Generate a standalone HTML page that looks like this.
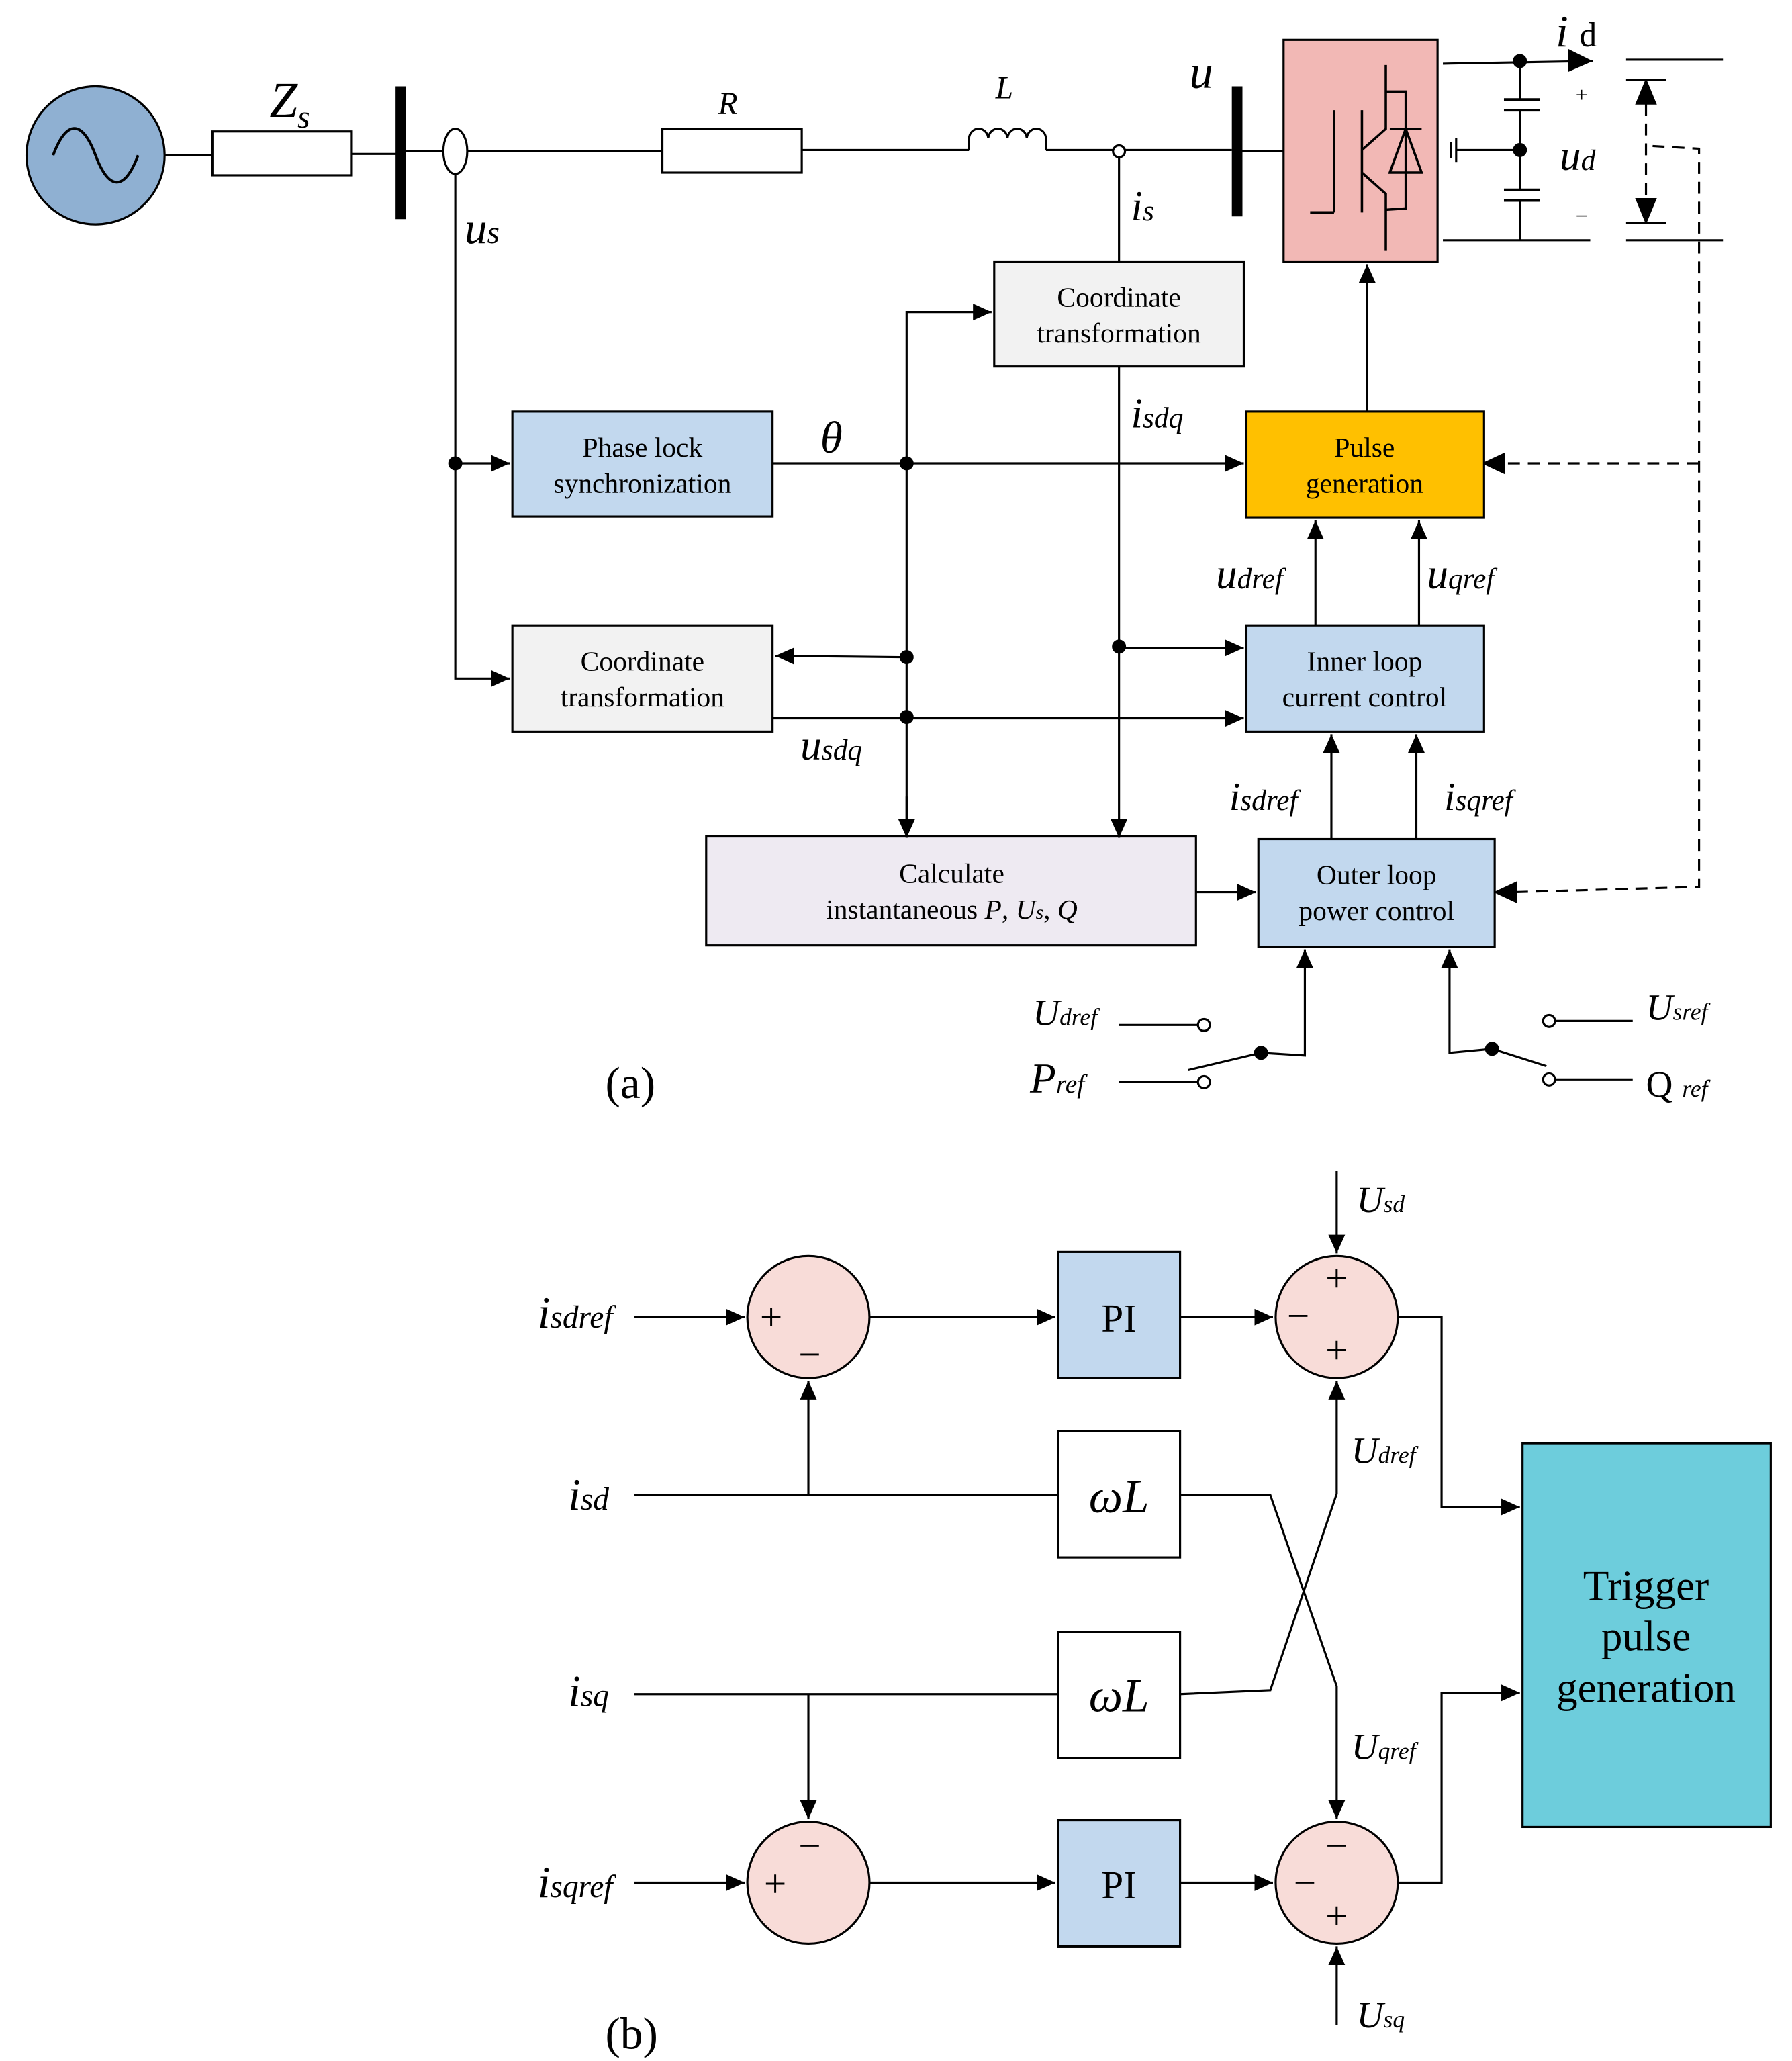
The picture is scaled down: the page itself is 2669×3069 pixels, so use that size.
<!DOCTYPE html>
<html><head><meta charset="utf-8"><style>
html,body{margin:0;padding:0;background:#fff;}
svg{display:block}
text{font-family:"Liberation Serif",serif;fill:#000}
.bx{font-size:21px;text-anchor:middle}
.lb{font-style:italic}
</style></head><body>
<svg width="2669" height="3069" viewBox="0 0 1350 1552.3" preserveAspectRatio="none" xmlns="http://www.w3.org/2000/svg">
<defs>
<marker id="A" viewBox="0 0 10 10" refX="10" refY="5" markerWidth="14" markerHeight="14" markerUnits="userSpaceOnUse" orient="auto"><path d="M0,0.5L10,5L0,9.5z" fill="#000"/></marker>
</defs>
<g stroke="#000" stroke-width="1.6" fill="none">
<circle cx="72" cy="117" r="52" fill="#8fb0d2"/>
<path d="M40,117 C50,90 62,90 72,117 C82,144 94,144 104,117" stroke-width="2"/>
<line x1="124" y1="117" x2="160" y2="117"/>
<rect x="160" y="99" width="105" height="33"/>
<line x1="265" y1="116" x2="300" y2="116"/>
<line x1="302" y1="65" x2="302" y2="165" stroke-width="8"/>
<line x1="302" y1="114" x2="499" y2="114"/>
<ellipse cx="343" cy="114" rx="9" ry="17" fill="#fff"/>
<rect x="499" y="97" width="105" height="33"/>
<line x1="604" y1="113" x2="730" y2="113"/>
<path d="M730,113 L730,104 a7.3,8 0 0 1 14.5,0 a7.3,8 0 0 1 14.5,0 a7.3,8 0 0 1 14.5,0 a7.3,8 0 0 1 14.5,0 L788,113"/>
<line x1="788" y1="113" x2="928" y2="113"/>
<circle cx="843" cy="114" r="4.5" fill="#fff"/>
<line x1="932" y1="65" x2="932" y2="163" stroke-width="8"/>
<line x1="932" y1="114" x2="967" y2="114"/>
<rect x="967" y="30" width="116" height="167" fill="#f2b8b5"/>
<g stroke-width="1.8">
<line x1="1005" y1="160" x2="1005" y2="83"/>
<polyline points="1005,160 987,160"/>
<line x1="1026" y1="83" x2="1026" y2="160"/>
<polyline points="1026,113 1044,97 1044,49"/>
<polyline points="1026,130 1044,146 1044,189"/>
<polyline points="1044,69 1059,69 1059,157 1044,158"/>
<line x1="1047" y1="97" x2="1071" y2="97"/>
<path d="M1059,97 L1047,130 L1071,130 Z"/>
</g>
<line x1="1087" y1="48" x2="1200" y2="46"/>
<path d="M1182,38 L1198,46 L1182,53 Z" fill="#000"/>
<circle cx="1145" cy="46" r="4.5" fill="#000"/>
<line x1="1087" y1="181" x2="1198" y2="181"/>
<line x1="1145" y1="46" x2="1145" y2="181"/>
<rect x="1131" y="75" width="30" height="8" fill="#fff" stroke="none"/><line x1="1133" y1="75" x2="1160" y2="75" stroke-width="2"/><line x1="1133" y1="83" x2="1160" y2="83" stroke-width="2"/>
<rect x="1131" y="143" width="30" height="8" fill="#fff" stroke="none"/><line x1="1133" y1="143" x2="1160" y2="143" stroke-width="2"/><line x1="1133" y1="151" x2="1160" y2="151" stroke-width="2"/>
<circle cx="1145" cy="113" r="4.5" fill="#000"/>
<line x1="1097" y1="113" x2="1145" y2="113"/>
<line x1="1097" y1="104" x2="1097" y2="122"/><line x1="1093" y1="107" x2="1093" y2="119"/>
<line x1="1225" y1="45" x2="1298" y2="45"/><line x1="1225" y1="181" x2="1298" y2="181"/>
<line x1="1225" y1="60" x2="1255" y2="60"/><line x1="1225" y1="168" x2="1255" y2="168"/>
<line x1="1240" y1="78" x2="1240" y2="150" stroke-dasharray="9,6"/>
<path d="M1233,78 L1240,61 L1247,78 Z M1233,150 L1240,167 L1247,150 Z" fill="#000"/>
<g stroke-dasharray="9,6">
<polyline points="1245,110 1280,112 1280,668 1140,672"/>
<line x1="1280" y1="349" x2="1132" y2="349"/>
</g>
<path d="M1142,665 L1127,672 L1142,679 Z M1133,342 L1118,349 L1133,356 Z" fill="#000"/>
<rect x="749" y="197" width="188" height="79" fill="#f2f2f2"/>
<rect x="386" y="310" width="196" height="79" fill="#c2d8ee"/>
<rect x="386" y="471" width="196" height="80" fill="#f2f2f2"/>
<rect x="939" y="310" width="179" height="80" fill="#ffc000"/>
<rect x="939" y="471" width="179" height="80" fill="#c2d8ee"/>
<rect x="948" y="632" width="178" height="81" fill="#c2d8ee"/>
<rect x="532" y="630" width="369" height="82" fill="#eeeaf2"/>
<polyline points="343,131 343,511 384,511" marker-end="url(#A)"/>
<line x1="343" y1="349" x2="384" y2="349" marker-end="url(#A)"/>
<circle cx="343" cy="349" r="4.5" fill="#000"/>
<line x1="582" y1="349" x2="937" y2="349" marker-end="url(#A)"/>
<circle cx="683" cy="349" r="4.5" fill="#000"/>
<polyline points="683,630 683,235 747,235" marker-end="url(#A)"/>
<line x1="683" y1="600" x2="683" y2="631" marker-end="url(#A)"/>
<line x1="843" y1="118" x2="843" y2="197"/>
<line x1="843" y1="276" x2="843" y2="631" marker-end="url(#A)"/>
<circle cx="843" cy="487" r="4.5" fill="#000"/>
<line x1="843" y1="488" x2="937" y2="488" marker-end="url(#A)"/>
<circle cx="683" cy="495" r="4.5" fill="#000"/>
<line x1="683" y1="495" x2="584" y2="494" marker-end="url(#A)"/>
<line x1="582" y1="541" x2="937" y2="541" marker-end="url(#A)"/>
<circle cx="683" cy="540" r="4.5" fill="#000"/>
<line x1="1030" y1="310" x2="1030" y2="199" marker-end="url(#A)"/>
<line x1="991" y1="471" x2="991" y2="392" marker-end="url(#A)"/>
<line x1="1069" y1="471" x2="1069" y2="392" marker-end="url(#A)"/>
<line x1="1003" y1="632" x2="1003" y2="553" marker-end="url(#A)"/>
<line x1="1067" y1="632" x2="1067" y2="553" marker-end="url(#A)"/>
<line x1="901" y1="672" x2="946" y2="672" marker-end="url(#A)"/>
<polyline points="895,806 950,793 983,795 983,715" marker-end="url(#A)"/>
<circle cx="950" cy="793" r="4.5" fill="#000"/>
<line x1="843" y1="772" x2="903" y2="772"/><circle cx="907" cy="772" r="4.5" fill="#fff"/>
<line x1="843" y1="815" x2="903" y2="815"/><circle cx="907" cy="815" r="4.5" fill="#fff"/>
<polyline points="1165,803 1124,790 1092,793 1092,715" marker-end="url(#A)"/>
<circle cx="1124" cy="790" r="4.5" fill="#000"/>
<line x1="1172" y1="769" x2="1230" y2="769"/><circle cx="1167" cy="769" r="4.5" fill="#fff"/>
<line x1="1172" y1="813" x2="1230" y2="813"/><circle cx="1167" cy="813" r="4.5" fill="#fff"/>

<circle cx="609" cy="992" r="46" fill="#f8dcd8"/>
<circle cx="1007" cy="992" r="46" fill="#f8dcd8"/>
<circle cx="609" cy="1418" r="46" fill="#f8dcd8"/>
<circle cx="1007" cy="1418" r="46" fill="#f8dcd8"/>
<rect x="797" y="943" width="92" height="95" fill="#c2d8ee"/>
<rect x="797" y="1371" width="92" height="95" fill="#c2d8ee"/>
<rect x="797" y="1078" width="92" height="95" fill="#fff"/>
<rect x="797" y="1229" width="92" height="95" fill="#fff"/>
<rect x="1147" y="1087" width="187" height="289" fill="#6dcddc"/>
<line x1="478" y1="992" x2="561" y2="992" marker-end="url(#A)"/>
<line x1="655" y1="992" x2="795" y2="992" marker-end="url(#A)"/>
<line x1="889" y1="992" x2="959" y2="992" marker-end="url(#A)"/>
<line x1="478" y1="1126" x2="797" y2="1126"/>
<line x1="609" y1="1126" x2="609" y2="1040" marker-end="url(#A)"/>
<polyline points="889,1126 957,1126 1007,1270 1007,1370" marker-end="url(#A)"/>
<line x1="478" y1="1276" x2="797" y2="1276"/>
<line x1="609" y1="1276" x2="609" y2="1370" marker-end="url(#A)"/>
<polyline points="889,1276 957,1273 1007,1125 1007,1040" marker-end="url(#A)"/>
<line x1="1007" y1="882" x2="1007" y2="944" marker-end="url(#A)"/>
<line x1="1007" y1="1525" x2="1007" y2="1466" marker-end="url(#A)"/>
<line x1="478" y1="1418" x2="561" y2="1418" marker-end="url(#A)"/>
<line x1="655" y1="1418" x2="795" y2="1418" marker-end="url(#A)"/>
<line x1="889" y1="1418" x2="959" y2="1418" marker-end="url(#A)"/>
<polyline points="1053,992 1086,992 1086,1135 1145,1135" marker-end="url(#A)"/>
<polyline points="1053,1418 1086,1418 1086,1275 1145,1275" marker-end="url(#A)"/>
</g>

<text x="203" y="88" font-size="38" class="lb">Z<tspan font-size="24" dy="8">s</tspan></text>
<text x="350" y="183" font-size="34" class="lb">u<tspan font-size="24">s</tspan></text>
<text x="541" y="86" font-size="24" class="lb">R</text>
<text x="750" y="74" font-size="24" class="lb">L</text>
<text x="896" y="66" font-size="36" class="lb">u</text>
<text x="1172" y="35" font-size="34" class="lb">i <tspan font-style="normal" font-size="26">d</tspan></text>
<text x="1175" y="128" font-size="32" class="lb">u<tspan font-size="22">d</tspan></text>
<text x="1187" y="77" font-size="16">+</text>
<text x="1187" y="168" font-size="16">−</text>
<text x="852" y="166" font-size="32" class="lb">i<tspan font-size="22">s</tspan></text>
<text x="852" y="322" font-size="32" class="lb">i<tspan font-size="22">sdq</tspan></text>
<text x="618" y="341" font-size="34" class="lb">θ</text>
<text x="603" y="572" font-size="32" class="lb">u<tspan font-size="22">sdq</tspan></text>
<text x="916" y="443" font-size="32" class="lb">u<tspan font-size="22">dref</tspan></text>
<text x="1075" y="443" font-size="32" class="lb">u<tspan font-size="22">qref</tspan></text>
<text x="926" y="610" font-size="30" class="lb">i<tspan font-size="22">sdref</tspan></text>
<text x="1088" y="610" font-size="30" class="lb">i<tspan font-size="22">sqref</tspan></text>
<text x="843" y="231" class="bx">Coordinate</text><text x="843" y="258" class="bx">transformation</text>
<text x="484" y="344" class="bx">Phase lock</text><text x="484" y="371" class="bx">synchronization</text>
<text x="484" y="505" class="bx">Coordinate</text><text x="484" y="532" class="bx">transformation</text>
<text x="1028" y="344" class="bx">Pulse</text><text x="1028" y="371" class="bx">generation</text>
<text x="1028" y="505" class="bx">Inner loop</text><text x="1028" y="532" class="bx">current control</text>
<text x="1037" y="666" class="bx">Outer loop</text><text x="1037" y="693" class="bx">power control</text>
<text x="717" y="665" class="bx">Calculate</text>
<text x="717" y="692" class="bx">instantaneous <tspan font-style="italic">P</tspan>, <tspan font-style="italic">U<tspan font-size="15">s</tspan></tspan>, <tspan font-style="italic">Q</tspan></text>
<text x="778" y="772" font-size="28" class="lb">U<tspan font-size="18">dref</tspan></text>
<text x="776" y="823" font-size="32" class="lb">P<tspan font-size="20">ref</tspan></text>
<text x="1240" y="768" font-size="28" class="lb">U<tspan font-size="18">sref</tspan></text>
<text x="1240" y="826" font-size="28">Q <tspan font-style="italic" font-size="18">ref</tspan></text>
<text x="456" y="827" font-size="34">(a)</text>

<text x="405" y="1000" font-size="34" class="lb">i<tspan font-size="24">sdref</tspan></text>
<text x="428" y="1137" font-size="34" class="lb">i<tspan font-size="24">sd</tspan></text>
<text x="428" y="1285" font-size="34" class="lb">i<tspan font-size="24">sq</tspan></text>
<text x="405" y="1429" font-size="34" class="lb">i<tspan font-size="24">sqref</tspan></text>
<text x="843" y="1003" font-size="30" text-anchor="middle">PI</text>
<text x="843" y="1430" font-size="30" text-anchor="middle">PI</text>
<text x="843" y="1139" font-size="36" text-anchor="middle" class="lb">ωL</text>
<text x="843" y="1289" font-size="36" text-anchor="middle" class="lb">ωL</text>
<text x="1240" y="1205" font-size="32" text-anchor="middle">Trigger</text>
<text x="1240" y="1243" font-size="32" text-anchor="middle">pulse</text>
<text x="1240" y="1282" font-size="32" text-anchor="middle">generation</text>
<text x="1022" y="913" font-size="28" class="lb">U<tspan font-size="18">sd</tspan></text>
<text x="1018" y="1102" font-size="28" class="lb">U<tspan font-size="18">dref</tspan></text>
<text x="1018" y="1325" font-size="28" class="lb">U<tspan font-size="18">qref</tspan></text>
<text x="1022" y="1527" font-size="28" class="lb">U<tspan font-size="18">sq</tspan></text>
<g font-size="30" text-anchor="middle">
<text x="581" y="1002">+</text><text x="610" y="1030">−</text>
<text x="1007" y="973">+</text><text x="978" y="1001">−</text><text x="1007" y="1027">+</text>
<text x="610" y="1400">−</text><text x="584" y="1429">+</text>
<text x="1007" y="1400">−</text><text x="983" y="1428">−</text><text x="1007" y="1453">+</text>
</g>
<text x="456" y="1543" font-size="34">(b)</text>
</svg>
</body></html>
